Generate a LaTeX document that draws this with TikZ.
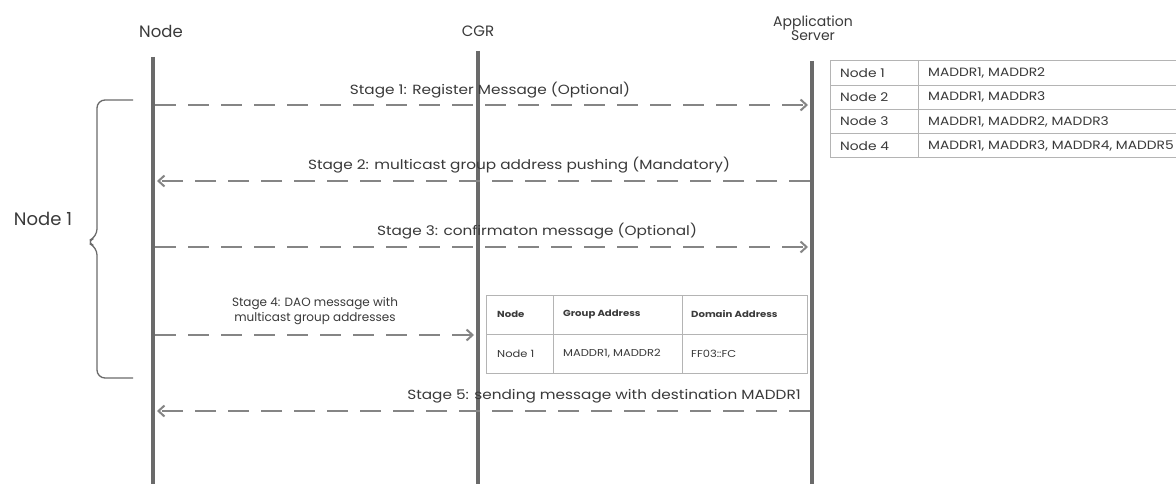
\documentclass[tikz,border=0pt]{standalone}
\usepackage{fontspec}
\setmainfont{Poppins}
\newfontfamily\wfont{Poppins}[FakeStretch=1.15]
\usetikzlibrary{arrows.meta}
\definecolor{lifec}{HTML}{6A6A6A}
\definecolor{msgc}{HTML}{858585}
\definecolor{txtc}{HTML}{3A3A3A}
\definecolor{gridc}{HTML}{B4B4B4}
\begin{document}
\begin{tikzpicture}[x=1pt,y=-1pt,
  life/.style={line width=4.2pt,draw=lifec},
  msg/.style={line width=2.6pt,draw=msgc,dash pattern=on 21pt off 12pt,
    -{Straight Barb[length=6pt,width=11pt,line width=2pt]},shorten >=2pt},
  head/.style={font=\fontsize{15}{17}\selectfont,text=txtc,inner sep=0,align=center},
  lbl/.style={font=\wfont\fontsize{13.3}{15}\selectfont,text=txtc,inner sep=0,align=center},
  rcell/.style={font=\wfont\fontsize{12}{13}\selectfont,text=txtc,inner sep=0,anchor=west},
  mcell/.style={font=\wfont\fontsize{10}{11}\selectfont,text=txtc,inner sep=0,anchor=west},
  mhead/.style={font=\wfont\fontsize{8.8}{10}\selectfont\bfseries,text=txtc,inner sep=0,anchor=west},
  grid/.style={draw=gridc,line width=1pt},
  brace/.style={draw=lifec,line width=1.3pt,rounded corners=8pt}]
\useasboundingbox (0,0) rectangle (1176,484);
\clip (0,0) rectangle (1176,484);
\fill[white] (0,0) rectangle (1176,484);

% headers
\node[head,font=\fontsize{16.5}{18}\selectfont] (hNode) at (161,31) {Node};
\node[head] (hCGR) at (478,31) {CGR};
\node[head,font=\fontsize{14}{15}\selectfont] (hApp) at (813,28) {Application\\[-1pt]Server};

% lifelines
\coordinate (nT) at (153,57);  \coordinate (nB) at (153,490);
\coordinate (cT) at (478,51);  \coordinate (cB) at (478,490);
\coordinate (aT) at (812,61);  \coordinate (aB) at (812,490);

% right table
\draw[grid] (830,61) rectangle (1190,158);
\draw[grid] (830,85.25) -- (1190,85.25) (830,109.5) -- (1190,109.5) (830,133.75) -- (1190,133.75);
\draw[grid] (918,61) -- (918,158);
\node[rcell] (r1a) at (840,73.1) {Node 1};
\node[rcell] (r1b) at (928,73.1) {MADDR1, MADDR2};
\node[rcell] (r2a) at (840,97.4) {Node 2};
\node[rcell] (r2b) at (928,97.4) {MADDR1, MADDR3};
\node[rcell] (r3a) at (840,121.6) {Node 3};
\node[rcell] (r3b) at (928,121.6) {MADDR1, MADDR2, MADDR3};
\node[rcell] (r4a) at (840,145.9) {Node 4};
\node[rcell] (r4b) at (928,145.9) {MADDR1, MADDR3, MADDR4, MADDR5};

% middle table
\draw[grid] (486,295) rectangle (807,373);
\draw[grid] (486,334) -- (807,334);
\draw[grid] (553,295) -- (553,373) (682,295) -- (682,373);
\node[mhead] (m0a) at (497,314.5) {Node};
\node[mhead] (m0b) at (563,314.5) {Group Address};
\node[mhead] (m0c) at (691,314.5) {Domain Address};
\node[mcell] (m1a) at (497,353.5) {Node 1};
\node[mcell] (m1b) at (563,353.5) {MADDR1, MADDR2};
\node[mcell] (m1c) at (691,353.5) {FF03::FC};

% lifeline bars
\draw[life] (nT) -- (nB);
\draw[life] (cT) -- (cB);
\draw[life] (aT) -- (aB);

% messages
\coordinate (n1) at (155,105); \coordinate (a1) at (810,105);
\coordinate (n2) at (155,181); \coordinate (a2) at (810,181);
\coordinate (n3) at (155,247); \coordinate (a3) at (810,247);
\coordinate (n4) at (155,335); \coordinate (c4) at (476,335);
\coordinate (n5) at (155,411); \coordinate (a5) at (810,411);
\draw[msg] (n1) -- (a1);
\draw[msg] (a2) -- (n2);
\draw[msg] (n3) -- (a3);
\draw[msg] (n4) -- (c4);
\draw[msg] (a5) -- (n5);

\node[lbl] (s1) at (490,90) {Stage 1: Register Message (Optional)};
\node[lbl] (s2) at (519,165) {Stage 2: multicast group address pushing (Mandatory)};
\node[lbl] (s3) at (537,231) {Stage 3: confirmaton message (Optional)};
\node[lbl,font=\fontsize{12}{14.5}\selectfont] (s4) at (315,311) {Stage 4: DAO message with\\multicast group addresses};
\node[lbl] (s5) at (604,396) {Stage 5: sending message with destination MADDR1};

% brace
\draw[brace] (133,100) -- (97,100) -- (97,237) -- (86,242) -- (97,247) -- (97,378) -- (133,378);
\node[head,font=\fontsize{18}{20}\selectfont] (bl) at (43,219) {Node 1};
\end{tikzpicture}
\end{document}
